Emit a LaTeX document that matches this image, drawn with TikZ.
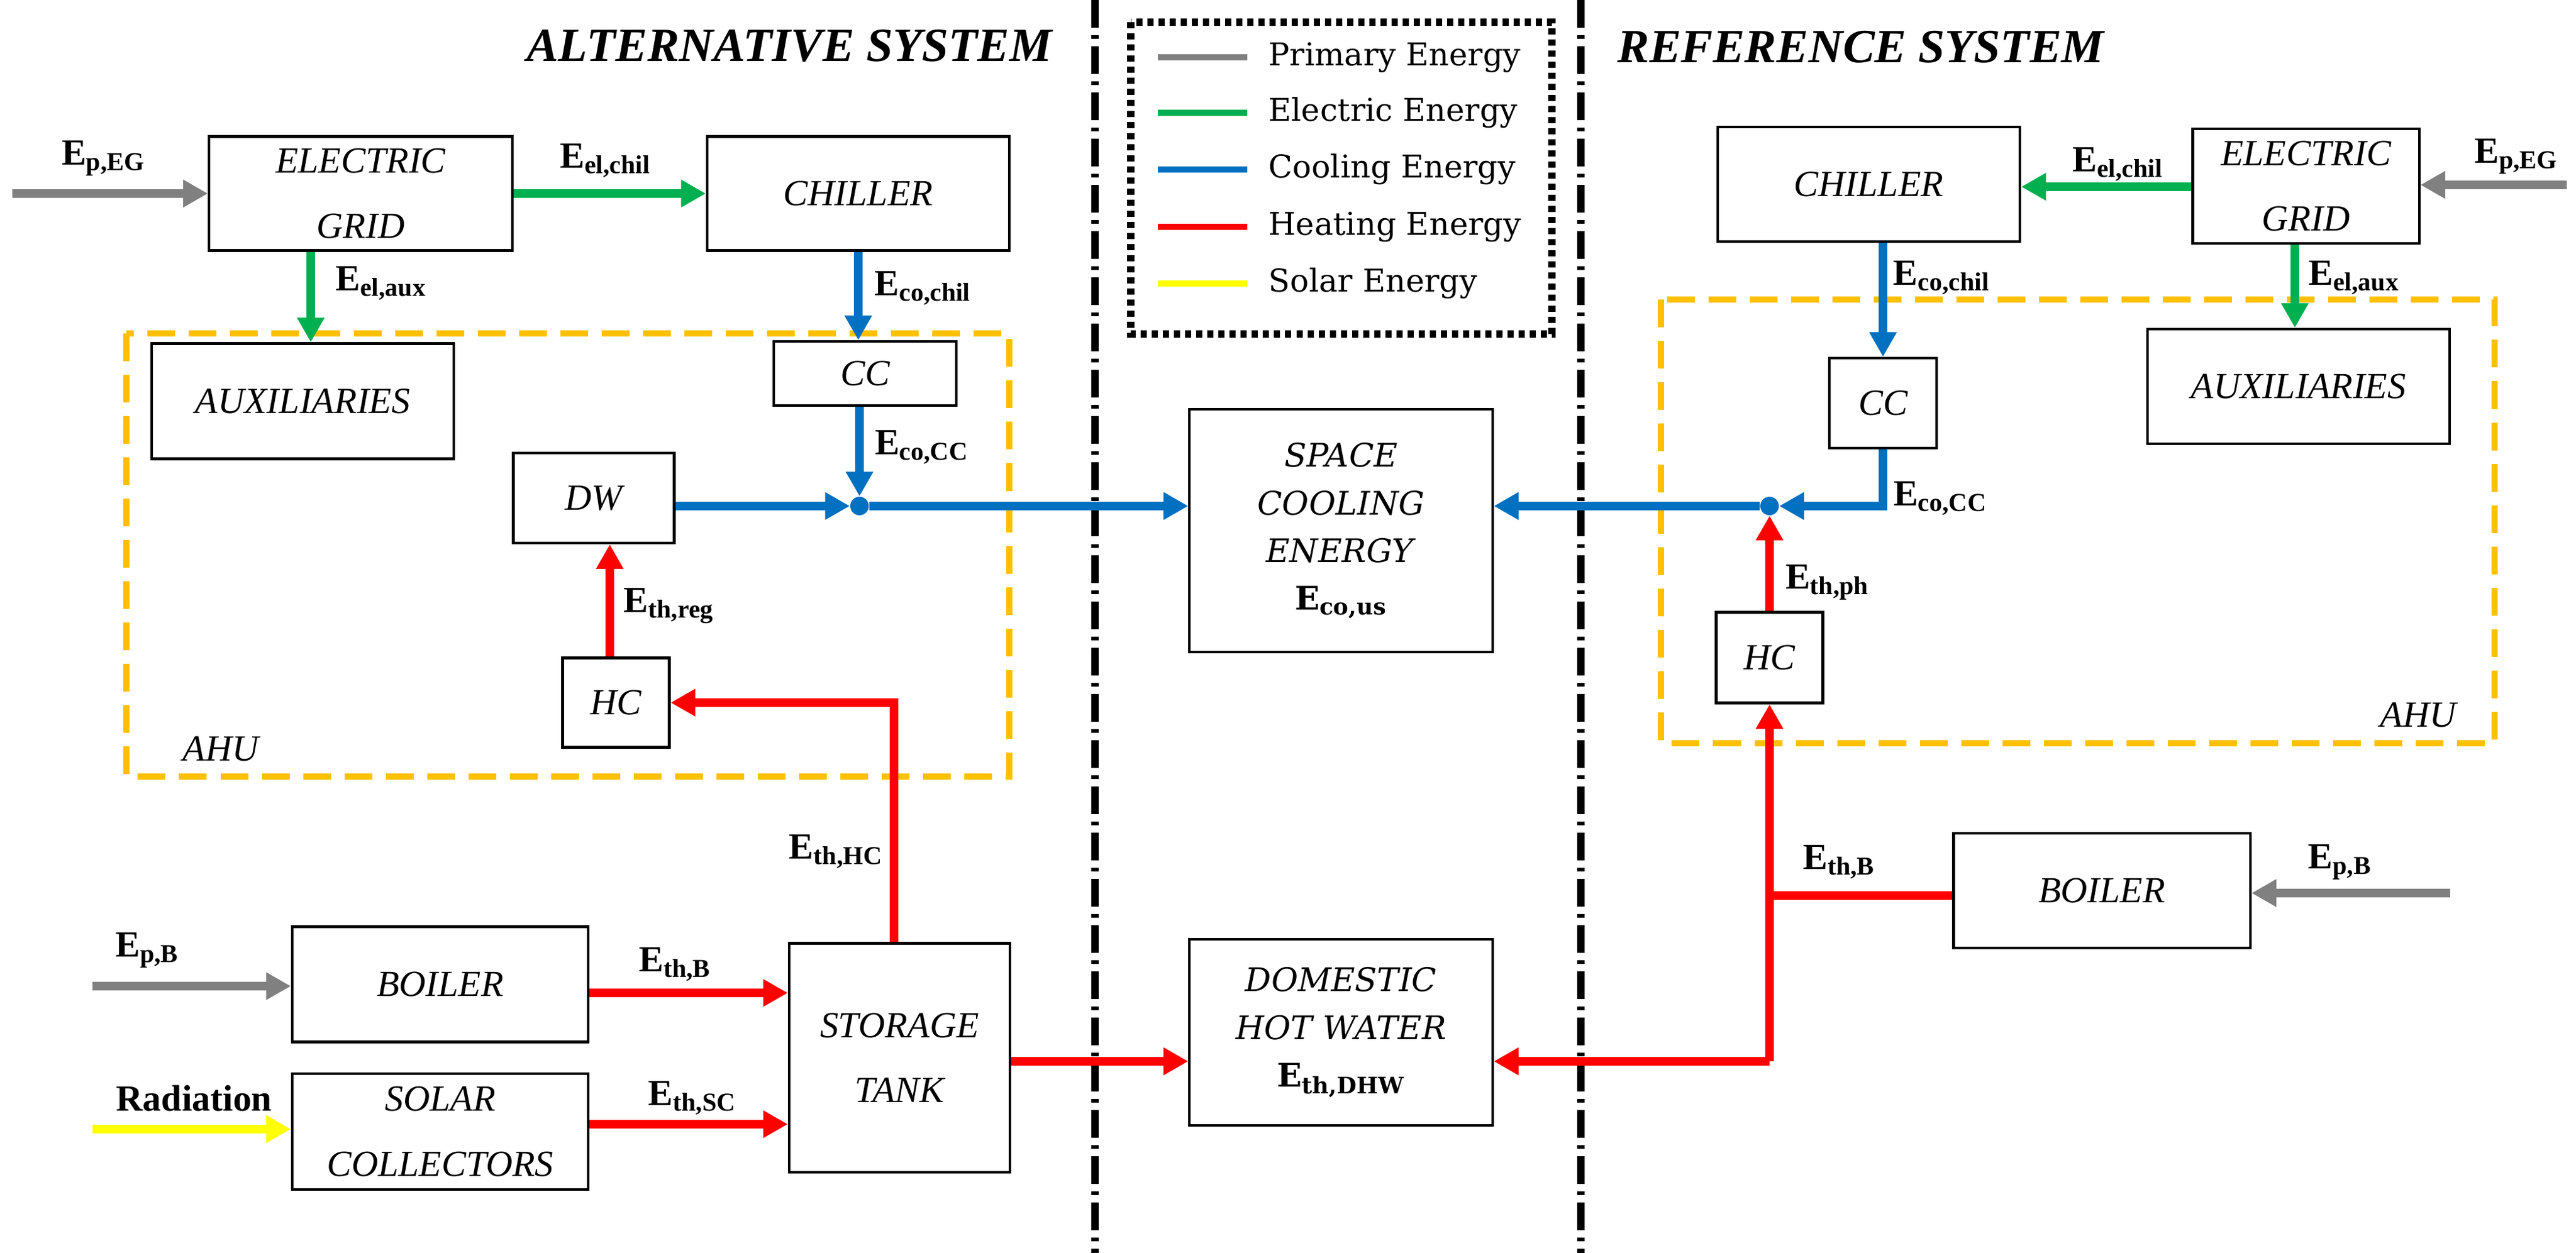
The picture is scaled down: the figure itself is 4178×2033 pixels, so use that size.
\documentclass[tikz,border=0pt]{standalone}
\usepackage{fontspec}
\setmainfont{Liberation Serif}
\newfontfamily\legendfont{DejaVu Serif}
\usetikzlibrary{arrows.meta, positioning}
\definecolor{cprim}{HTML}{808080}
\definecolor{celec}{HTML}{00B050}
\definecolor{ccool}{HTML}{0070C0}
\definecolor{cheat}{HTML}{FF0000}
\definecolor{csolar}{HTML}{FFFF00}
\definecolor{cahu}{HTML}{FFC000}
\tikzset{%
	every block/.style={
		draw,
		line width=1.2pt,
		align=center,
		font=\fontsize{17}{30}\selectfont\itshape
	},
	flow/.style={
		line width=4pt,
		-{Triangle[length=0.4cm,width=0.42cm]}
	},
	pipe/.style={
		line width=4pt
	},
	flow label/.style={
		font=\fontsize{17}{20}\selectfont\bfseries
	},
	ahu box/.style={
		draw=cahu,
		line width=3pt,
		dash pattern=on 0.45cm off 0.22cm
	},
	divider/.style={
		line width=3.5pt,
		dash pattern=on 0.45cm off 0.12cm on 0.06cm off 0.12cm
	},
	junction/.style={
		circle,
		fill=ccool,
		inner sep=0pt,
		minimum size=0.3cm
	},
}
\newcommand{\blk}[5]{\node[every block, minimum width=#3, minimum height=#4] (#1) at #2 {#5};}
\newcommand{\en}[1]{E\textsubscript{#1}}

\begin{document}
\begin{tikzpicture}[x=0.01cm, y=-0.01cm]
	\useasboundingbox (0,0) rectangle (4178,2033);

	% titles and dividing lines
	\node[font=\fontsize{22}{26}\selectfont\bfseries\itshape] (titleA) at (1280,74) {ALTERNATIVE SYSTEM};
	\node[font=\fontsize{22}{26}\selectfont\bfseries\itshape] (titleR) at (3018,76) {REFERENCE SYSTEM};
	\draw[divider] (1776,0) -- (1776,2033);
	\draw[divider] (2564,0) -- (2564,2033);

	% legend
	\draw[line width=3.5pt, dash pattern=on 0.1cm off 0.08cm] (1834,36) rectangle (2517,542);
	\foreach \col/\txt/\yy in {cprim/Primary Energy/93, celec/Electric Energy/183, ccool/Cooling Energy/275, cheat/Heating Energy/368, csolar/Solar Energy/460} {
		\draw[line width=3pt, \col] (1878,\yy) -- (2023,\yy);
		\node[anchor=west, font=\legendfont\fontsize{14.5}{17}\selectfont] at (2045,\yy) {\txt};
	}

	% alternative system
	\draw[ahu box] (205,541) rectangle (1637,1260);
	\node[font=\fontsize{17}{20}\selectfont\itshape] (ahuA) at (358,1215) {AHU};
	\blk{gridA}{(585,314)}{4.91cm}{1.85cm}{ELECTRIC\\GRID}
	\blk{chilA}{(1392,314)}{4.9cm}{1.85cm}{CHILLER}
	\blk{auxA}{(491,651)}{4.89cm}{1.87cm}{AUXILIARIES}
	\blk{ccA}{(1403,606)}{2.96cm}{1.04cm}{CC}
	\blk{dwA}{(963,808)}{2.61cm}{1.46cm}{DW}
	\blk{hcA}{(999,1140)}{1.73cm}{1.45cm}{HC}
	\blk{boilA}{(714,1597)}{4.8cm}{1.87cm}{BOILER}
	\blk{solA}{(714,1836)}{4.8cm}{1.88cm}{SOLAR\\COLLECTORS}
	\blk{tank}{(1459,1716)}{3.58cm}{3.71cm}{STORAGE\\TANK}
	\node[junction] (jA) at (1394,821) {};
	\coordinate (inEGA) at (20,314);
	\coordinate (inBA) at (150,1600);
	\coordinate (inSA) at (150,1832);

	\draw[flow, cprim] (inEGA) -- (gridA.west);
	\node[flow label] (lEGA) at (168,257) {\en{p,EG}};
	\draw[flow, celec] (gridA.east) -- (chilA.west);
	\node[flow label] (lchilA) at (982,261) {\en{el,chil}};
	\draw[flow, celec] (gridA.south -| 504,0) -- (auxA.north -| 504,0);
	\node[flow label] (lauxA) at (618,460) {\en{el,aux}};
	\draw[flow, ccool] (chilA.south) -- (ccA.north -| chilA.south);
	\node[flow label] (lcochilA) at (1497,468) {\en{co,chil}};
	\draw[flow, ccool] (ccA.south -| jA) -- (jA.north);
	\node[flow label] (lccA) at (1495,726) {\en{co,CC}};
	\draw[flow, ccool] (dwA.east |- jA) -- (jA.west);
	\draw[flow, cheat] (hcA.north -| 989,0) -- (dwA.south -| 989,0);
	\node[flow label] (lregA) at (1085,983) {\en{th,reg}};
	\draw[flow, cheat] (tank.north -| 1450,0) |- (hcA.east);
	\node[flow label] (lhcA) at (1356,1382) {\en{th,HC}};
	\draw[flow, cprim] (inBA) -- (boilA.west |- inBA);
	\node[flow label] (lpBA) at (239,1542) {\en{p,B}};
	\draw[flow, csolar] (inSA) -- (solA.west |- inSA);
	\node[flow label] (lradA) at (315,1782) {Radiation};
	\draw[flow, cheat] (boilA.east |- 0,1611) -- (tank.west |- 0,1611);
	\node[flow label] (lthBA) at (1095,1565) {\en{th,B}};
	\draw[flow, cheat] (solA.east |- 0,1824) -- (tank.west |- 0,1824);
	\node[flow label] (lscA) at (1123,1782) {\en{th,SC}};

	% users
	\node[every block, minimum width=4.91cm, minimum height=3.94cm, font=\legendfont\fontsize{15}{22}\selectfont] (space) at (2175,861)
		{\textit{SPACE}\\\textit{COOLING}\\\textit{ENERGY}\\\textbf{\en{co,us}}};
	\node[every block, minimum width=4.91cm, minimum height=3.02cm, font=\legendfont\fontsize{15}{22}\selectfont] (dhw) at (2175,1675)
		{\textit{DOMESTIC}\\\textit{HOT WATER}\\\textbf{\en{th,DHW}}};
	\draw[flow, ccool] (jA.east) -- (space.west |- jA);
	\draw[flow, cheat] (tank.east |- 0,1722) -- (dhw.west |- 0,1722);

	% reference system
	\draw[ahu box] (2694,486) rectangle (4046,1206);
	\node[font=\fontsize{17}{20}\selectfont\itshape] (ahuR) at (3922,1160) {AHU};
	\blk{chilR}{(3031,299)}{4.9cm}{1.86cm}{CHILLER}
	\blk{gridR}{(3740,302)}{3.67cm}{1.86cm}{ELECTRIC\\GRID}
	\blk{ccR}{(3054,654)}{1.74cm}{1.46cm}{CC}
	\blk{auxR}{(3728,627)}{4.9cm}{1.86cm}{AUXILIARIES}
	\blk{hcR}{(2870,1067)}{1.73cm}{1.47cm}{HC}
	\blk{boilR}{(3409,1445)}{4.81cm}{1.86cm}{BOILER}
	\node[junction] (jR) at (2870,821) {};
	\coordinate (inEGR) at (4163,300);
	\coordinate (inBR) at (3974,1449);
	\coordinate (teeR) at (2870,1453);
	\coordinate (dhwR) at (2870,1722);

	\draw[flow, cprim] (inEGR) -- (gridR.east |- inEGR);
	\node[flow label] (lEGR) at (4081,254) {\en{p,EG}};
	\draw[flow, celec] (gridR.west |- 0,303) -- (chilR.east |- 0,303);
	\node[flow label] (lchilR) at (3435,267) {\en{el,chil}};
	\draw[flow, celec] (gridR.south -| 3722,0) -- (auxR.north -| 3722,0);
	\node[flow label] (lauxR) at (3818,451) {\en{el,aux}};
	\draw[flow, ccool] (chilR.south -| ccR) -- (ccR.north);
	\node[flow label] (lcochilR) at (3149,451) {\en{co,chil}};
	\draw[flow, ccool] (ccR.south) |- (jR.east);
	\node[flow label] (lccR) at (3147,809) {\en{co,CC}};
	\draw[flow, ccool] (jR.west) -- (space.east |- jR);
	\draw[flow, cheat] (hcR.north) -- (jR.south);
	\node[flow label] (lphR) at (2964,945) {\en{th,ph}};
	\draw[flow, cprim] (inBR) -- (boilR.east |- inBR);
	\node[flow label] (lpBR) at (3795,1399) {\en{p,B}};
	\draw[pipe, cheat] (boilR.west |- teeR) -- (teeR);
	\node[flow label] (lthBR) at (2983,1399) {\en{th,B}};
	\draw[flow, cheat] (dhwR) -- (hcR.south);
	\draw[flow, cheat] (dhwR) -- (dhw.east |- dhwR);
\end{tikzpicture}
\end{document}
